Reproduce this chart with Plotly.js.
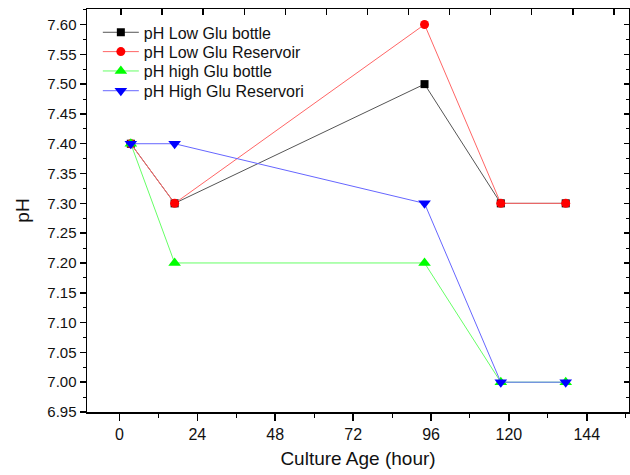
<!DOCTYPE html>
<html>
<head>
<meta charset="utf-8">
<script src="https://cdn.plot.ly/plotly-3.0.1.min.js"></script>
<style>html,body{margin:0;padding:0;background:#fff}#chart{width:630px;height:475px}</style>
</head>
<body>
<div id="chart"></div>
<script>
// Data
const hours = [3.5, 17, 94, 117.5, 137.5];
const lowGluBottle = [7.40, 7.30, 7.50, 7.30, 7.30];
const lowGluReservoir = [7.40, 7.30, 7.60, 7.30, 7.30];
const highGluBottle = [7.40, 7.20, 7.20, 7.00, 7.00];
const highGluReservori = [7.40, 7.40, 7.30, 7.00, 7.00];
const seriesNames = ["pH Low Glu bottle", "pH Low Glu Reservoir", "pH high Glu bottle", "pH High Glu Reservori"];
const xTickVals = [0, 24, 48, 72, 96, 120, 144];
const yTickVals = [6.95, 7.00, 7.05, 7.10, 7.15, 7.20, 7.25, 7.30, 7.35, 7.40, 7.45, 7.50, 7.55, 7.60];

const font = "Liberation Sans, Arial, sans-serif";

function tr(y, name, lineColor, markerColor, symbol, size, legendId) {
  return {
    x: hours, y: y, name: name, type: "scatter", mode: "lines+markers", legend: legendId,
    line: {color: lineColor, width: 1},
    marker: {color: markerColor, symbol: symbol, size: size, line: {width: 0}}
  };
}

const traces = [
  tr(lowGluBottle, seriesNames[0], "#555555", "#000000", "square", 8, "legend"),
  tr(lowGluReservoir, seriesNames[1], "#ff6666", "#ff0000", "circle", 9, "legend2"),
  tr(highGluBottle, seriesNames[2], "#66ff66", "#00ff00", "triangle-up", 11, "legend3"),
  tr(highGluReservori, seriesNames[3], "#6666ff", "#0000ff", "triangle-down", 11, "legend4")
];

function leg(y) {
  return {x: 0.02, y: y, xanchor: "left", yanchor: "middle", bgcolor: "rgba(0,0,0,0)",
          itemwidth: 36, font: {family: font, size: 16, color: "#111"}};
}

const layout = {
  width: 630, height: 475,
  margin: {l: 87, r: 1, t: 9, b: 63},
  paper_bgcolor: "#fff", plot_bgcolor: "#fff",
  font: {family: font, size: 15, color: "#111"},
  showlegend: true,
  legend: leg(0.942), legend2: leg(0.894), legend3: leg(0.846), legend4: leg(0.797),
  xaxis: {
    range: [-10, 157], tickvals: xTickVals, ticktext: xTickVals.map(String),
    showgrid: false, zeroline: false, showline: true, linecolor: "#000", linewidth: 1.5, mirror: true,
    ticks: "outside", ticklen: 7, tickwidth: 1.5, tickcolor: "#000",
    minor: {ticks: "outside", dtick: 12, tick0: 0, ticklen: 4, tickwidth: 1, tickcolor: "#000", showgrid: false},
    title: {text: "Culture Age (hour)", font: {family: font, size: 19, color: "#111"}, standoff: 10},
    tickfont: {family: font, size: 16, color: "#111"}
  },
  yaxis: {
    range: [6.95, 7.626], tickvals: yTickVals, ticktext: yTickVals.map(v => v.toFixed(2)),
    showgrid: false, zeroline: false, showline: true, linecolor: "#000", linewidth: 1.5, mirror: true,
    ticks: "outside", ticklen: 6, tickwidth: 1.5, tickcolor: "#000",
    minor: {ticks: "outside", dtick: 0.025, tick0: 6.95, ticklen: 3, tickwidth: 1, tickcolor: "#000", showgrid: false},
    title: {text: "pH", font: {family: font, size: 19, color: "#111"}, standoff: 12},
    tickfont: {family: font, size: 15, color: "#111"}
  },
  xaxis2: {
    overlaying: "x", side: "top", range: [-0.83, 12.37], dtick: 1, tick0: 0,
    showticklabels: false, showgrid: false, zeroline: false, showline: false,
    ticks: "inside", ticklen: 6, tickwidth: 1.5, tickcolor: "#000"
  },
  yaxis2: {
    overlaying: "y", side: "right", range: [6.95, 7.626], tickvals: yTickVals,
    showticklabels: false, showgrid: false, zeroline: false, showline: false,
    ticks: "inside", ticklen: 5, tickwidth: 1.5, tickcolor: "#000",
    minor: {ticks: "inside", dtick: 0.025, tick0: 6.95, ticklen: 3, tickwidth: 1, tickcolor: "#000", showgrid: false}
  }
};

// invisible helper trace to activate the mirrored tick axes
traces.push({x: [null], y: [null], xaxis: "x2", yaxis: "y2", showlegend: false, hoverinfo: "skip", type: "scatter", mode: "markers"});

Plotly.newPlot("chart", traces, layout, {displayModeBar: false, staticPlot: true});
</script>
</body>
</html>
